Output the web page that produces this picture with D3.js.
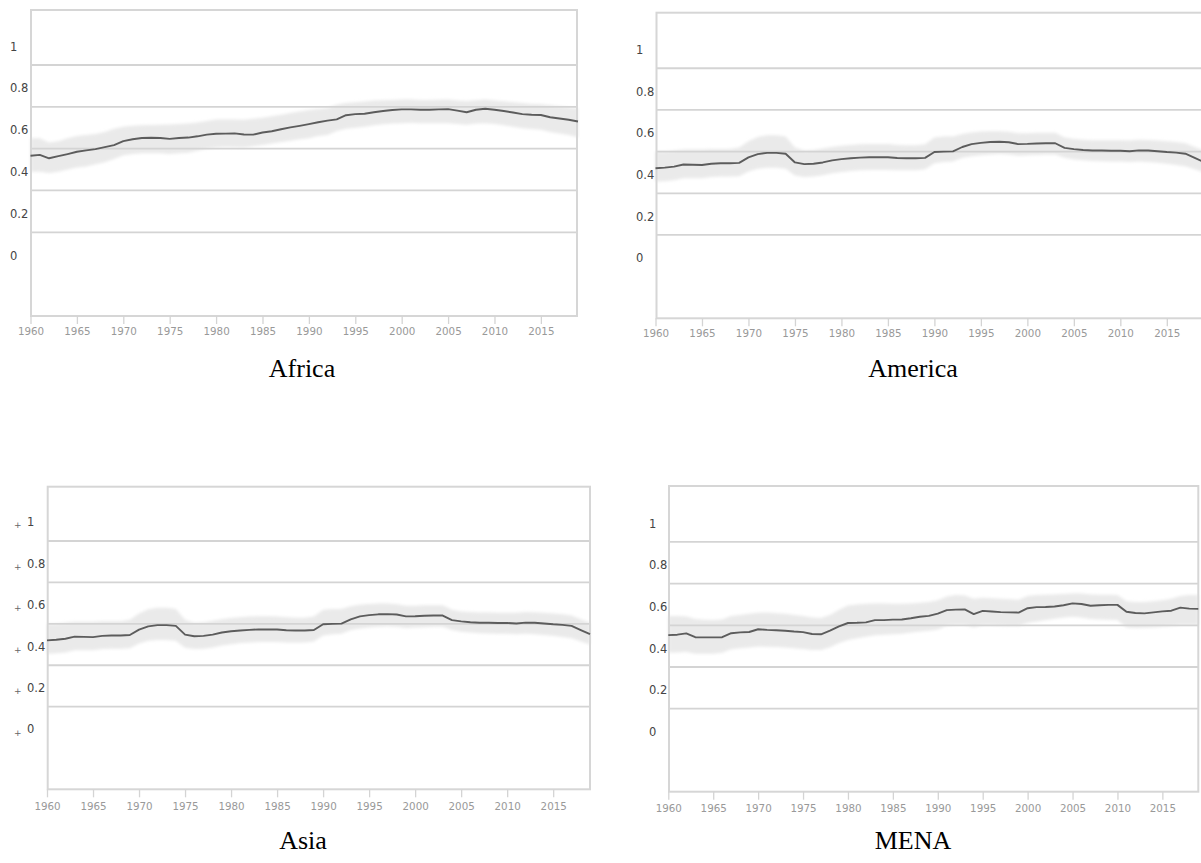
<!DOCTYPE html>
<html><head><meta charset="utf-8">
<script src="https://cdn.jsdelivr.net/npm/d3@7"></script>
<style>body{margin:0;background:#fff}svg{display:block}</style>
</head><body>
<svg id="chart" width="1201" height="863"></svg>
<script>
const years = [1960,1961,1962,1963,1964,1965,1966,1967,1968,1969,1970,1971,1972,1973,1974,1975,1976,1977,1978,1979,
  1980,1981,1982,1983,1984,1985,1986,1987,1988,1989,1990,1991,1992,1993,1994,1995,1996,1997,1998,1999,
  2000,2001,2002,2003,2004,2005,2006,2007,2008,2009,2010,2011,2012,2013,2014,2015,2016,2017,2018,2019];
const yTickValues = [1, 0.8, 0.6, 0.4, 0.2, 0];
const yTickLabels = ["1", "0.8", "0.6", "0.4", "0.2", "0"];
const gridValues = [0.9, 0.7, 0.5, 0.3, 0.1];
const xTickValues = [1960, 1965, 1970, 1975, 1980, 1985, 1990, 1995, 2000, 2005, 2010, 2015];
const regionNames = ["Africa", "America", "Asia", "MENA"];

const africaMean = [0.466,0.470,0.454,0.464,0.474,0.485,0.492,0.498,0.507,0.517,0.536,0.545,0.551,0.552,0.551,0.547,0.551,0.553,0.559,0.567,
  0.571,0.572,0.573,0.568,0.567,0.577,0.583,0.593,0.602,0.609,0.617,0.626,0.634,0.640,0.660,0.665,0.667,0.674,0.680,0.685,
  0.688,0.688,0.686,0.686,0.688,0.689,0.682,0.674,0.686,0.691,0.686,0.680,0.673,0.665,0.662,0.661,0.650,0.644,0.638,0.630];
const africaHigh = [0.550,0.550,0.530,0.535,0.550,0.560,0.565,0.570,0.580,0.595,0.605,0.610,0.612,0.613,0.614,0.615,0.618,0.620,0.625,0.632,
  0.640,0.640,0.640,0.638,0.643,0.648,0.655,0.662,0.670,0.678,0.685,0.690,0.695,0.710,0.718,0.722,0.726,0.730,0.732,0.733,
  0.735,0.735,0.733,0.733,0.734,0.735,0.730,0.728,0.732,0.735,0.730,0.727,0.722,0.718,0.714,0.712,0.708,0.703,0.698,0.692];
const africaLow = [0.390,0.390,0.383,0.390,0.400,0.410,0.415,0.425,0.435,0.450,0.468,0.475,0.478,0.478,0.478,0.475,0.478,0.480,0.490,0.500,
  0.505,0.508,0.507,0.505,0.512,0.518,0.525,0.532,0.538,0.545,0.550,0.560,0.565,0.585,0.595,0.600,0.605,0.612,0.617,0.620,
  0.622,0.624,0.622,0.622,0.622,0.622,0.618,0.614,0.620,0.622,0.618,0.612,0.605,0.598,0.594,0.590,0.580,0.572,0.565,0.555];

const americaMean = [0.420,0.423,0.428,0.438,0.437,0.436,0.442,0.444,0.444,0.446,0.472,0.488,0.494,0.494,0.490,0.448,0.440,0.442,0.448,0.458,
  0.464,0.468,0.471,0.473,0.473,0.473,0.469,0.468,0.468,0.470,0.498,0.500,0.501,0.522,0.536,0.542,0.546,0.547,0.545,0.536,
  0.537,0.539,0.540,0.540,0.518,0.512,0.508,0.505,0.505,0.504,0.504,0.502,0.506,0.505,0.502,0.498,0.495,0.490,0.470,0.450];
const americaHigh = [0.500,0.500,0.505,0.510,0.510,0.510,0.512,0.512,0.512,0.520,0.550,0.570,0.578,0.578,0.572,0.520,0.505,0.508,0.515,0.522,
  0.528,0.532,0.535,0.537,0.537,0.536,0.532,0.530,0.530,0.535,0.568,0.572,0.572,0.585,0.592,0.596,0.598,0.598,0.595,0.588,
  0.588,0.590,0.590,0.590,0.568,0.560,0.557,0.555,0.555,0.554,0.554,0.553,0.557,0.556,0.553,0.550,0.546,0.540,0.522,0.505];
const americaLow = [0.356,0.358,0.362,0.372,0.372,0.372,0.378,0.380,0.380,0.382,0.405,0.418,0.422,0.422,0.418,0.385,0.378,0.380,0.386,0.396,
  0.402,0.407,0.410,0.412,0.412,0.412,0.410,0.410,0.410,0.415,0.444,0.450,0.452,0.470,0.478,0.482,0.486,0.488,0.486,0.480,
  0.482,0.484,0.486,0.486,0.470,0.462,0.458,0.455,0.454,0.452,0.452,0.450,0.452,0.450,0.446,0.442,0.436,0.430,0.415,0.400];

const asiaMean = [0.420,0.423,0.428,0.438,0.437,0.436,0.442,0.444,0.444,0.446,0.472,0.488,0.494,0.494,0.490,0.448,0.440,0.442,0.448,0.458,
  0.464,0.468,0.471,0.473,0.473,0.473,0.469,0.468,0.468,0.470,0.498,0.500,0.501,0.522,0.536,0.542,0.546,0.547,0.545,0.536,
  0.537,0.539,0.540,0.540,0.518,0.512,0.508,0.505,0.505,0.504,0.504,0.502,0.506,0.505,0.502,0.498,0.495,0.490,0.470,0.450];
const asiaHigh = [0.500,0.500,0.505,0.510,0.510,0.510,0.512,0.512,0.512,0.520,0.550,0.570,0.578,0.578,0.572,0.520,0.505,0.508,0.515,0.522,
  0.528,0.532,0.535,0.537,0.537,0.536,0.532,0.530,0.530,0.535,0.568,0.572,0.572,0.585,0.592,0.596,0.598,0.598,0.595,0.588,
  0.588,0.590,0.590,0.590,0.568,0.560,0.557,0.555,0.555,0.554,0.554,0.553,0.557,0.556,0.553,0.550,0.546,0.540,0.522,0.505];
const asiaLow = [0.356,0.358,0.362,0.372,0.372,0.372,0.378,0.380,0.380,0.382,0.405,0.418,0.422,0.422,0.418,0.385,0.378,0.380,0.386,0.396,
  0.402,0.407,0.410,0.412,0.412,0.412,0.410,0.410,0.410,0.415,0.444,0.450,0.452,0.470,0.478,0.482,0.486,0.488,0.486,0.480,
  0.482,0.484,0.486,0.486,0.470,0.462,0.458,0.455,0.454,0.452,0.452,0.450,0.452,0.450,0.446,0.442,0.436,0.430,0.415,0.400];

const menaMean = [0.453,0.455,0.461,0.443,0.442,0.442,0.443,0.462,0.466,0.468,0.481,0.478,0.476,0.474,0.470,0.467,0.458,0.457,0.474,0.495,
  0.511,0.512,0.514,0.525,0.525,0.527,0.528,0.534,0.541,0.545,0.556,0.573,0.575,0.576,0.554,0.569,0.566,0.563,0.562,0.561,
  0.582,0.587,0.588,0.590,0.596,0.605,0.602,0.594,0.596,0.598,0.598,0.565,0.559,0.557,0.562,0.567,0.570,0.585,0.580,0.579];
const menaHigh = [0.545,0.545,0.542,0.530,0.527,0.525,0.528,0.545,0.550,0.555,0.560,0.562,0.558,0.555,0.550,0.545,0.537,0.535,0.550,0.575,
  0.595,0.600,0.603,0.605,0.605,0.604,0.603,0.605,0.608,0.612,0.620,0.638,0.645,0.643,0.628,0.632,0.630,0.627,0.625,0.623,
  0.640,0.645,0.646,0.648,0.650,0.653,0.652,0.648,0.647,0.647,0.645,0.615,0.612,0.612,0.615,0.620,0.628,0.640,0.645,0.645];
const menaLow = [0.370,0.370,0.372,0.364,0.363,0.364,0.368,0.385,0.390,0.394,0.398,0.397,0.396,0.394,0.390,0.386,0.381,0.381,0.395,0.415,
  0.430,0.438,0.445,0.452,0.455,0.457,0.460,0.465,0.470,0.474,0.480,0.498,0.502,0.502,0.490,0.500,0.500,0.498,0.497,0.497,
  0.512,0.518,0.525,0.532,0.538,0.541,0.538,0.530,0.528,0.527,0.525,0.490,0.487,0.488,0.490,0.493,0.497,0.502,0.502,0.502];

const panels = [
  {name: regionNames[0], mean: africaMean, low: africaLow, high: africaHigh,
   frame: {l: 31, r: 577, t: 10, b: 316}, xr: [30.5, 578], yr: [253.2, 44.1],
   labelX: 10, labelDy: 2.5, arrows: false, title: [302, 377], xLabelDy: 15},
  {name: regionNames[1], mean: americaMean, low: americaLow, high: americaHigh,
   frame: {l: 656.5, r: 1204, t: 12.7, b: 318.3}, xr: [655.5, 1204], yr: [255.8, 47.4],
   labelX: 636, labelDy: 2.5, arrows: false, title: [913, 377], xLabelDy: 15},
  {name: regionNames[2], mean: asiaMean, low: asiaLow, high: asiaHigh,
   frame: {l: 47.7, r: 590, t: 486.7, b: 789.3}, xr: [47, 590], yr: [727.4, 520.3],
   labelX: 27, labelDy: 2, arrows: true, title: [303, 849], xLabelDy: 17},
  {name: regionNames[3], mean: menaMean, low: menaLow, high: menaHigh,
   frame: {l: 669, r: 1198.3, t: 486, b: 791.7}, xr: [668.3, 1198.3], yr: [729.5, 521.1],
   labelX: 649, labelDy: 2.5, arrows: false, title: [913, 849], xLabelDy: 17}
];

const svg = d3.select("#chart");
svg.append("rect").attr("width", 1201).attr("height", 863).attr("fill", "#fff");
const defs = svg.append("defs");
defs.append("filter").attr("id", "soft").attr("x", "-5%").attr("y", "-50%").attr("width", "110%").attr("height", "200%")
  .append("feGaussianBlur").attr("stdDeviation", 1.6);

panels.forEach(p => {
  const x = d3.scaleLinear().domain([years[0], years[years.length - 1]]).range(p.xr);
  const y = d3.scaleLinear().domain([0, 1]).range(p.yr);
  const g = svg.append("g");
  const f = p.frame;

  // confidence band
  const area = d3.area().x((d, i) => x(years[i])).y0((d, i) => y(p.low[i])).y1((d, i) => y(p.high[i]));
  g.append("path").datum(p.mean).attr("d", area).attr("fill", "#eaeaea").attr("filter", "url(#soft)");

  // grid lines
  g.selectAll(".grid").data(gridValues).join("line")
    .attr("x1", f.l).attr("x2", f.r).attr("y1", d => y(d)).attr("y2", d => y(d))
    .attr("stroke", "#d4d4d4").attr("stroke-width", 1.8);

  // frame
  g.append("rect").attr("x", f.l).attr("y", f.t).attr("width", f.r - f.l).attr("height", f.b - f.t)
    .attr("fill", "none").attr("stroke", "#d6d6d6").attr("stroke-width", 2);

  // mean line
  const line = d3.line().x((d, i) => x(years[i])).y(d => y(d));
  g.append("path").datum(p.mean).attr("d", line).attr("fill", "none")
    .attr("stroke", "#5c5c5c").attr("stroke-width", 1.9).attr("stroke-linejoin", "round");

  // x axis
  const xAxis = d3.axisBottom(x).tickValues(xTickValues).tickFormat(d3.format("d")).tickSize(8).tickPadding(3);
  const ax = g.append("g").attr("transform", `translate(0,${f.b})`).call(xAxis);
  ax.select(".domain").remove();
  ax.selectAll(".tick line").attr("stroke", "#d4d4d4").attr("stroke-width", 1.3);
  ax.selectAll(".tick text").attr("fill", "#999").attr("font-family", "DejaVu Sans")
    .attr("font-size", 10.3).attr("y", p.xLabelDy).attr("dy", "0.35em");

  // y labels
  g.selectAll(".ylab").data(yTickValues).join("text")
    .attr("x", p.labelX).attr("y", d => y(d) + p.labelDy).attr("dy", "0.35em")
    .attr("font-family", "DejaVu Sans").attr("font-size", 11.5).attr("fill", "#444")
    .text((d, i) => yTickLabels[i]);
  if (p.arrows) {
    g.selectAll(".yarr").data(yTickValues).join("text")
      .attr("x", 14).attr("y", d => y(d) + p.labelDy + 3).attr("dy", "0.35em")
      .attr("font-family", "DejaVu Sans").attr("font-size", 9).attr("fill", "#666")
      .text("+");
  }

  // title
  svg.append("text").attr("x", p.title[0]).attr("y", p.title[1]).attr("text-anchor", "middle")
    .attr("font-family", "Liberation Serif").attr("font-size", 26).attr("fill", "#000").text(p.name);
});
</script>
</body></html>
